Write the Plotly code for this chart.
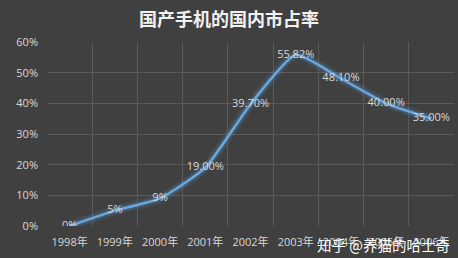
import plotly.graph_objects as go

years = ["1998年", "1999年", "2000年", "2001年", "2002年", "2003年", "2004年", "2005年", "2006年"]
share = [0, 5, 9, 19, 39.70, 55.82, 48.10, 40.00, 35.00]
labels = ["0%", "5%", "9%", "19.00%", "39.70%", "55.82%", "48.10%", "40.00%", "35.00%"]
y_ticks = [0, 10, 20, 30, 40, 50, 60]
y_tick_text = ["0%", "10%", "20%", "30%", "40%", "50%", "60%"]

fig = go.Figure()
# glow layers
for w, a in [(10, 0.10), (6, 0.20)]:
    fig.add_trace(go.Scatter(x=years, y=share, mode="lines",
                             line=dict(color=f"rgba(91,155,213,{a})", width=w, shape="spline", smoothing=0.5),
                             hoverinfo="skip", showlegend=False))
fig.add_trace(go.Scatter(x=years, y=share, mode="lines+text", text=labels,
                         textposition="middle center",
                         textfont=dict(color="#d9d9d9", size=11, family="Open Sans, Noto Sans CJK SC"),
                         line=dict(color="#6aa7de", width=2.5, shape="spline", smoothing=0.5),
                         hoverinfo="skip", showlegend=False))

fig.update_layout(
    width=458, height=258,
    paper_bgcolor="#404040", plot_bgcolor="#404040",
    margin=dict(l=47, r=4, t=42, b=32),
    title=dict(text="<b>国产手机的国内市占率</b>", x=0.5, xanchor="center", y=0.925, yanchor="middle",
               font=dict(color="#f2f2f2", size=18, family="Noto Sans CJK SC")),
    xaxis=dict(type="category", tickson="boundaries", showgrid=True, gridcolor="#5a5a5a", gridwidth=1,
               range=[-0.5, 8.5], ticks="", zeroline=False, showline=False, ticklabelstandoff=8,
               tickfont=dict(color="#d9d9d9", size=11, family="Open Sans, Noto Sans CJK SC")),
    yaxis=dict(range=[0, 60], tickvals=y_ticks, ticktext=y_tick_text, showgrid=True, gridcolor="#5a5a5a",
               zeroline=False, showline=False, ticks="", ticklabelstandoff=8,
               tickfont=dict(color="#d9d9d9", size=11, family="Open Sans, Noto Sans CJK SC")),
    annotations=[dict(text="知乎 @养猫的哈士奇", x=0.995, y=-0.035, xref="paper", yref="paper",
                      xanchor="right", yanchor="top", showarrow=False,
                      font=dict(color="#ffffff", size=14.5, family="Noto Sans CJK SC"))],
)
fig.write_html("out.html")
